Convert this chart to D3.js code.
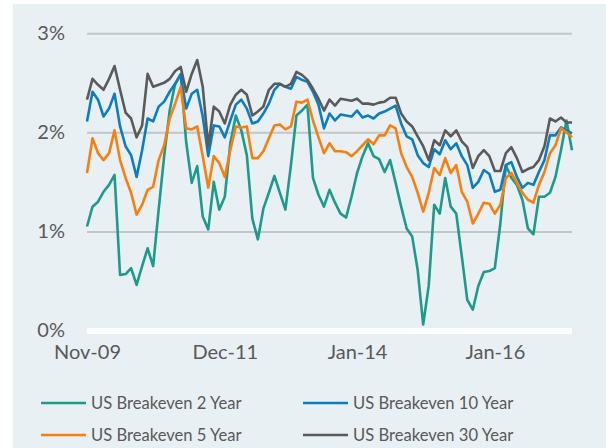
<!DOCTYPE html>
<html>
<head>
<meta charset="utf-8">
<script src="https://cdn.jsdelivr.net/npm/d3@7"></script>
<style>
body { margin: 0; background: #fff; }
svg text { font-family: Lato, "Open Sans", sans-serif; fill: #595959; }
</style>
</head>
<body>
<svg class="chart"></svg>
<script>
var svgWidth = 606,
    svgHeight = 448,
    plot = {left: 87, right: 572, top: 33.3, bottom: 330.5};

// x categories are monthly points, labels every ~25 months
var tickIndex = [0, 25, 49, 74],
    tickLabels = ['Nov-09', 'Dec-11', 'Jan-14', 'Jan-16'],
    yTicks = [0, 1, 2, 3];

var seriesNames = ['US Breakeven 2 Year', 'US Breakeven 10 Year', 'US Breakeven 5 Year', 'US Breakeven 30 Year'],
    seriesColors = ['#1e9a8b', '#0e7dc0', '#f58011', '#5a5a5a'];

var be2y = [1.05, 1.25, 1.30, 1.40, 1.47, 1.57, 0.56, 0.57, 0.63, 0.46, 0.65, 0.83, 0.65, 1.22, 1.76, 2.22, 2.49, 2.59,
            1.90, 1.49, 1.66, 1.15, 1.02, 1.50, 1.22, 1.35, 1.89, 2.17, 2.02, 1.77, 1.13, 0.92, 1.23, 1.39, 1.56, 1.39,
            1.22, 1.67, 2.17, 2.22, 2.28, 1.54, 1.37, 1.25, 1.42, 1.29, 1.18, 1.14, 1.35, 1.59, 1.76, 1.89, 1.76, 1.73,
            1.60, 1.72, 1.49, 1.25, 1.03, 0.95, 0.61, 0.06, 0.45, 1.27, 1.18, 1.54, 1.25, 1.18, 0.75, 0.31, 0.21, 0.45,
            0.59, 0.60, 0.63, 1.08, 1.67, 1.54, 1.47, 1.32, 1.03, 0.97, 1.35, 1.35, 1.39, 1.55, 1.82, 2.12, 1.82];

var be10y = [2.11, 2.41, 2.33, 2.16, 2.24, 2.39, 2.06, 1.86, 1.77, 1.55, 1.82, 2.14, 2.11, 2.26, 2.31, 2.41, 2.49, 2.58,
             2.24, 2.39, 2.43, 2.16, 1.76, 2.07, 2.06, 1.95, 2.12, 2.28, 2.33, 2.24, 2.09, 2.11, 2.19, 2.29, 2.43, 2.49,
             2.46, 2.44, 2.56, 2.53, 2.51, 2.41, 2.28, 2.04, 2.19, 2.12, 2.18, 2.17, 2.16, 2.22, 2.15, 2.17, 2.14, 2.19,
             2.21, 2.24, 2.27, 2.09, 1.96, 1.93, 1.77, 1.69, 1.65, 1.83, 1.78, 1.92, 1.83, 1.89, 1.76, 1.67, 1.44, 1.50,
             1.62, 1.58, 1.40, 1.42, 1.67, 1.70, 1.55, 1.44, 1.49, 1.47, 1.60, 1.72, 1.97, 1.97, 2.05, 2.02, 1.99];

var be5y = [1.59, 1.94, 1.79, 1.72, 1.79, 2.02, 1.72, 1.54, 1.39, 1.17, 1.27, 1.42, 1.45, 1.72, 1.87, 2.14, 2.29, 2.46,
            2.04, 2.03, 2.06, 1.76, 1.44, 1.76, 1.69, 1.55, 1.82, 2.06, 2.05, 2.06, 1.74, 1.74, 1.81, 1.94, 2.07, 2.08,
            2.03, 2.06, 2.31, 2.30, 2.33, 2.12, 1.95, 1.79, 1.89, 1.81, 1.81, 1.80, 1.76, 1.81, 1.87, 1.93, 1.88, 1.97,
            1.97, 2.07, 2.04, 1.79, 1.65, 1.55, 1.39, 1.20, 1.39, 1.64, 1.57, 1.74, 1.59, 1.67, 1.40, 1.30, 1.08, 1.18,
            1.29, 1.28, 1.18, 1.27, 1.54, 1.59, 1.49, 1.39, 1.32, 1.29, 1.47, 1.60, 1.79, 1.87, 2.04, 2.00, 1.95];

var be30y = [2.33, 2.54, 2.48, 2.43, 2.54, 2.67, 2.43, 2.20, 2.14, 1.95, 2.07, 2.59, 2.46, 2.48, 2.50, 2.54, 2.62, 2.66,
             2.41, 2.59, 2.73, 2.46, 1.86, 2.26, 2.21, 2.09, 2.28, 2.38, 2.43, 2.38, 2.17, 2.21, 2.26, 2.43, 2.49, 2.49,
             2.46, 2.49, 2.61, 2.58, 2.53, 2.44, 2.34, 2.22, 2.33, 2.27, 2.34, 2.33, 2.32, 2.34, 2.29, 2.29, 2.28, 2.30,
             2.31, 2.35, 2.35, 2.19, 2.11, 2.06, 1.96, 1.86, 1.72, 1.92, 1.87, 2.02, 1.96, 2.02, 1.91, 1.85, 1.64, 1.76,
             1.82, 1.76, 1.61, 1.61, 1.79, 1.85, 1.74, 1.60, 1.63, 1.65, 1.72, 1.86, 2.14, 2.11, 2.15, 2.10, 2.10];

var series = [be2y, be10y, be5y, be30y];

var svg = d3.select('.chart')
    .attr('width', svgWidth)
    .attr('height', svgHeight);

svg.append('rect')
    .attr('x', 13).attr('y', 4)
    .attr('width', svgWidth - 13).attr('height', svgHeight - 4)
    .attr('fill', '#e8f0f3');

var xScale = d3.scaleLinear().domain([0, be2y.length - 1]).range([plot.left, plot.right]),
    yScale = d3.scaleLinear().domain([0, 3]).range([plot.bottom, plot.top]);

// gridlines
var yGrid = d3.axisLeft(yScale).tickValues(yTicks).tickSize(-(plot.right - plot.left)).tickFormat('');
svg.append('g')
    .attr('class', 'grid')
    .attr('transform', 'translate(' + plot.left + ',0)')
    .call(yGrid)
    .call(function(g) { g.select('.domain').remove(); })
    .selectAll('line')
        .attr('stroke', function(d) { return d === 0 ? '#ffffff' : '#c3c6c8'; })
        .attr('stroke-width', function(d) { return d === 0 ? 6 : 2; });

// y labels
var yAxis = d3.axisLeft(yScale).tickValues(yTicks).tickSize(0).tickPadding(0)
    .tickFormat(function(d) { return d + '%'; });
svg.append('g')
    .attr('transform', 'translate(65,0)')
    .call(yAxis)
    .call(function(g) { g.select('.domain').remove(); })
    .selectAll('text')
        .attr('font-size', 20)
        .attr('fill', '#595959');

// x labels
var xAxis = d3.axisBottom(xScale).tickValues(tickIndex).tickSize(0).tickPadding(0)
    .tickFormat(function(d, i) { return tickLabels[i]; });
svg.append('g')
    .attr('transform', 'translate(0,' + 345 + ')')
    .call(xAxis)
    .call(function(g) { g.select('.domain').remove(); })
    .selectAll('text')
        .attr('font-size', 20)
        .attr('fill', '#595959');

svg.selectAll('.tick text').attr('font-family', 'Lato, "Open Sans", sans-serif');

var line = d3.line()
    .x(function(d, i) { return xScale(i); })
    .y(function(d) { return yScale(d); });

svg.selectAll('.series')
    .data(series)
    .enter().append('path')
        .attr('class', 'series')
        .attr('d', line)
        .attr('fill', 'none')
        .attr('stroke', function(d, i) { return seriesColors[i]; })
        .attr('stroke-width', 2.6)
        .attr('stroke-linejoin', 'round');

// legend, two per row
var legendX = [41, 303], legendY = [403, 435];
var legend = svg.selectAll('.legend')
    .data(seriesNames)
    .enter().append('g')
        .attr('class', 'legend')
        .attr('transform', function(d, i) { return 'translate(' + legendX[i % 2] + ',' + legendY[Math.floor(i / 2)] + ')'; });

legend.append('line')
    .attr('x1', 0).attr('x2', 45)
    .attr('stroke', function(d, i) { return seriesColors[i]; })
    .attr('stroke-width', 2.6);

legend.append('text')
    .attr('x', 50)
    .attr('dy', '0.35em')
    .attr('font-size', 16.6)
    .text(function(d) { return d; });
</script>
</body>
</html>
